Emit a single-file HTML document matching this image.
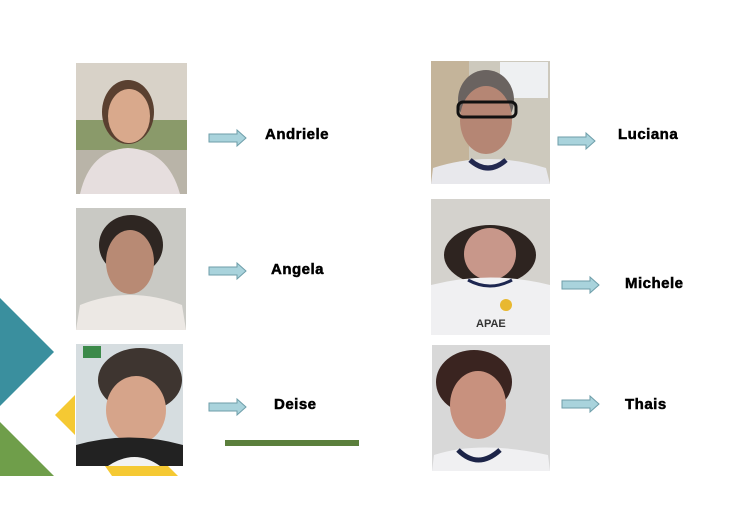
<!DOCTYPE html>
<html><head><meta charset="utf-8"><style>
html,body{margin:0;padding:0;background:#fff;}
svg{display:block;}
text{font-family:"Liberation Sans",Arial,sans-serif;font-weight:bold;font-size:15px;fill:#000;stroke:#000;stroke-width:0.5px;letter-spacing:0.5px;}
</style></head><body>
<svg width="750" height="530" viewBox="0 0 750 530" xmlns="http://www.w3.org/2000/svg">
<defs>
<g id="arr"><polygon points="0,-4 28,-4 28,-8 37,0 28,8 28,4 0,4" fill="#a9d3dc" stroke="#6e9ea9" stroke-width="1"/></g>
</defs>
<polygon points="0,298 54,352 0,406" fill="#3a8f9e"/>
<polygon points="0,422 54,476 0,476" fill="#6f9e4a"/>
<polygon points="75,395 55,415 75,435" fill="#f5c933"/>
<polygon points="105,466 168,466 178,476 112,476" fill="#f5c933"/>
<rect x="225" y="440" width="134" height="6" fill="#5b7f3c"/>

<rect x="76" y="63" width="111" height="131" fill="#b9b4a8"/>
<rect x="76" y="63" width="111" height="60" fill="#d8d2c8"/>
<rect x="76" y="120" width="111" height="30" fill="#8a9a6a"/>
<ellipse cx="128" cy="112" rx="26" ry="32" fill="#5a4030"/>
<ellipse cx="129" cy="116" rx="21" ry="27" fill="#d9a98c"/>
<path d="M80 194 Q90 150 128 148 Q168 150 180 194Z" fill="#e6dede"/>

<rect x="76" y="208" width="110" height="122" fill="#c9c9c4"/>
<ellipse cx="131" cy="245" rx="32" ry="30" fill="#2e2622"/>
<ellipse cx="130" cy="262" rx="24" ry="32" fill="#b88a74"/>
<path d="M76 330 L80 305 Q130 285 182 305 L186 330Z" fill="#ece8e4"/>

<rect x="76" y="344" width="107" height="122" fill="#d6dde0"/>
<rect x="83" y="346" width="18" height="12" fill="#3c8a4a"/>
<ellipse cx="140" cy="380" rx="42" ry="32" fill="#3e3530"/>
<ellipse cx="136" cy="410" rx="30" ry="34" fill="#d6a48a"/>
<path d="M76 466 L76 445 Q130 430 183 445 L183 466Z" fill="#222"/>
<path d="M108 466 Q135 448 160 466Z" fill="#f2f2f2"/>

<rect x="431" y="61" width="119" height="123" fill="#cdc9bd"/>
<rect x="431" y="61" width="38" height="123" fill="#c4b49a"/>
<rect x="500" y="62" width="48" height="36" fill="#eef0f2"/>
<ellipse cx="486" cy="100" rx="28" ry="30" fill="#6a6360"/>
<ellipse cx="486" cy="120" rx="26" ry="34" fill="#b58674"/>
<rect x="458" y="102" width="58" height="15" rx="5" fill="none" stroke="#111" stroke-width="3"/>
<path d="M431 184 L433 168 Q488 150 546 168 L550 184Z" fill="#e8e8ec"/>
<path d="M470 160 Q488 176 506 160" fill="none" stroke="#222850" stroke-width="5"/>

<rect x="431" y="199" width="119" height="136" fill="#d4d2cd"/>
<ellipse cx="490" cy="255" rx="46" ry="30" fill="#2e2420"/>
<ellipse cx="490" cy="254" rx="26" ry="26" fill="#c8978a"/>
<path d="M431 335 L431 285 Q490 270 550 285 L550 335Z" fill="#f0f0f2"/>
<path d="M468 280 Q490 292 512 280" fill="none" stroke="#1d2650" stroke-width="3"/>
<circle cx="506" cy="305" r="6" fill="#e8b830"/>
<text x="476" y="327" style="font-size:11px;fill:#333;stroke:none;letter-spacing:0">APAE</text>

<rect x="432" y="345" width="118" height="126" fill="#d8d8d8"/>
<ellipse cx="474" cy="382" rx="38" ry="32" fill="#3a2420"/>
<ellipse cx="478" cy="405" rx="28" ry="34" fill="#c8917e"/>
<path d="M432 471 L434 455 Q480 440 548 455 L550 471Z" fill="#f0f0f2"/>
<path d="M458 450 Q478 470 500 450" fill="none" stroke="#1c2448" stroke-width="5"/>

<use href="#arr" x="209" y="138"/>
<use href="#arr" x="209" y="271"/>
<use href="#arr" x="209" y="407"/>
<use href="#arr" x="558" y="141"/>
<use href="#arr" x="562" y="285"/>
<use href="#arr" x="562" y="404"/>

<text x="265" y="139">Andriele</text>
<text x="271" y="274">Angela</text>
<text x="274" y="409">Deise</text>
<text x="618" y="139">Luciana</text>
<text x="625" y="288">Michele</text>
<text x="625" y="409">Thais</text>
</svg>
</body></html>
